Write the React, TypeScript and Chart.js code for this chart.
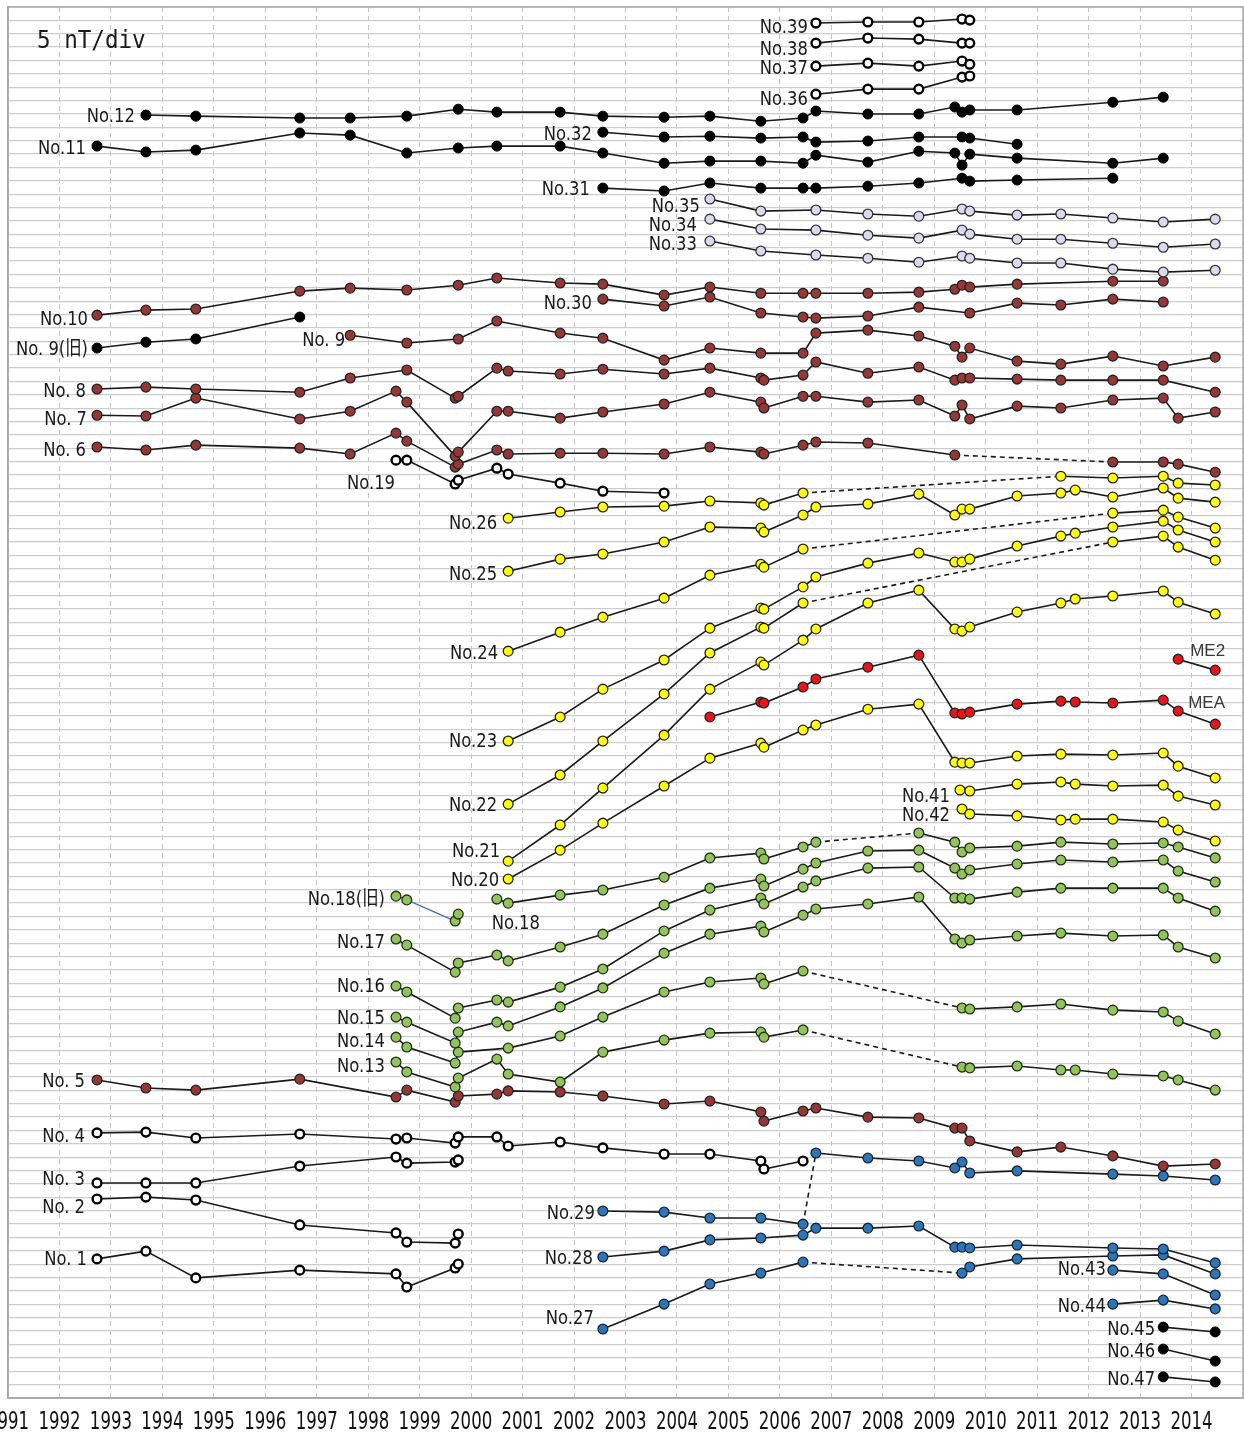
import React, { useEffect, useRef } from 'react';
import { Chart, registerables } from 'chart.js';

Chart.register(...registerables);

type Pt = [number, number];

// ---- axis / tick values ----
const YEAR_LABELS = ['1991','1992','1993','1994','1995','1996','1997','1998','1999','2000','2001','2002','2003','2004','2005','2006','2007','2008','2009','2010','2011','2012','2013','2014'];
const X_MIN = 1991;
const X_MAX = 2015;
const Y_MIN = 0;
const Y_MAX = 520;
const Y_STEP = 5; // 5 nT / div

// ---- series (year, relative nT) ----
const NO39: Pt[] = [[2006.70,514.0],[2007.71,514.4],[2008.70,514.4],[2009.54,515.5],[2009.69,515.1]];
const NO38: Pt[] = [[2006.70,506.5],[2007.71,508.4],[2008.70,508.0],[2009.54,506.5],[2009.69,506.5]];
const NO37: Pt[] = [[2006.70,497.9],[2007.71,499.0],[2008.70,497.9],[2009.54,499.8],[2009.69,498.6]];
const NO36: Pt[] = [[2006.70,487.4],[2007.71,489.3],[2008.70,489.3],[2009.54,493.8],[2009.69,494.2]];
const NO12: Pt[] = [[1993.68,479.6],[1994.65,479.2],[1996.67,478.5],[1997.65,478.5],[1998.75,479.2],[1999.75,481.8],[2000.50,480.7],[2001.73,480.7],[2002.56,479.2],[2003.75,478.8],[2004.64,479.2],[2005.63,477.3],[2006.45,478.5],[2006.70,481.1],[2007.71,480.0],[2008.70,480.0],[2009.40,482.6],[2009.54,480.7],[2009.69,481.5],[2010.61,481.5],[2012.47,484.4],[2013.45,486.3]];
const NO11: Pt[] = [[1992.73,468.0],[1993.68,465.8],[1994.65,466.5],[1996.67,472.9],[1997.65,472.1],[1998.75,465.4],[1999.75,467.3],[2000.50,468.0],[2001.73,468.0],[2002.56,465.4],[2003.75,461.6],[2004.64,462.4],[2005.63,462.4],[2006.45,461.6],[2006.70,464.6],[2007.71,462.0],[2008.70,466.1],[2009.40,465.4],[2009.54,460.9],[2009.69,465.0],[2010.61,463.5],[2012.47,461.6],[2013.45,463.5]];
const NO32: Pt[] = [[2002.56,473.2],[2003.75,471.4],[2004.64,471.7],[2005.63,471.0],[2006.45,471.4],[2006.70,469.5],[2007.71,469.9],[2008.70,471.4],[2009.54,471.4],[2009.69,471.0],[2010.61,468.7]];
const NO31: Pt[] = [[2002.56,452.3],[2003.75,451.2],[2004.64,454.2],[2005.63,452.3],[2006.45,452.3],[2006.70,452.3],[2007.71,453.0],[2008.70,454.2],[2009.54,456.0],[2009.69,454.9],[2010.61,455.3],[2012.47,456.0]];
const NO35: Pt[] = [[2004.64,448.2],[2005.63,443.7],[2006.70,444.1],[2007.71,442.6],[2008.70,441.8],[2009.54,444.5],[2009.69,443.7],[2010.61,442.2],[2011.46,442.6],[2012.47,441.1],[2013.45,439.6],[2014.46,440.7]];
const NO34: Pt[] = [[2004.64,440.7],[2005.63,437.0],[2006.70,436.6],[2007.71,434.7],[2008.70,433.6],[2009.54,436.6],[2009.69,435.1],[2010.61,433.2],[2011.46,433.2],[2012.47,431.7],[2013.45,430.2],[2014.46,431.4]];
const NO33: Pt[] = [[2004.64,432.5],[2005.63,428.8],[2006.70,427.3],[2007.71,426.1],[2008.70,424.6],[2009.54,426.9],[2009.69,426.1],[2010.61,424.3],[2011.46,424.3],[2012.47,422.0],[2013.45,420.9],[2014.46,421.6]];
const NO10: Pt[] = [[1992.73,404.8],[1993.68,406.7],[1994.65,407.1],[1996.67,413.8],[1997.65,414.9],[1998.75,414.2],[1999.75,416.0],[2000.50,418.7],[2001.73,416.8],[2002.56,416.4],[2003.75,412.3],[2004.64,415.3],[2005.63,413.0],[2006.45,413.0],[2006.70,413.0],[2007.71,413.0],[2008.70,413.4],[2009.40,414.5],[2009.54,416.0],[2009.69,415.3],[2010.61,416.4],[2012.47,417.5],[2013.45,417.5]];
const NO30: Pt[] = [[2002.56,410.8],[2003.75,408.2],[2004.64,411.6],[2005.63,405.6],[2006.45,404.1],[2006.70,403.7],[2007.71,404.5],[2008.70,407.8],[2009.69,405.6],[2010.61,409.3],[2011.46,408.6],[2012.47,410.8],[2013.45,409.7]];
const NO9_OLD: Pt[] = [[1992.73,392.5],[1993.68,394.7],[1994.65,395.9],[1996.67,404.1]];
const NO9: Pt[] = [[1997.65,397.3],[1998.75,394.4],[1999.75,395.9],[2000.50,402.6],[2001.73,398.1],[2002.56,396.2],[2003.75,388.0],[2004.64,392.5],[2005.63,390.6],[2006.45,390.6],[2006.70,398.1],[2007.71,399.2],[2008.70,397.0],[2009.40,393.2],[2009.54,389.1],[2009.69,392.5],[2010.61,387.6],[2011.46,386.5],[2012.47,389.5],[2013.45,385.8],[2014.46,389.1]];
const NO8: Pt[] = [[1992.73,377.2],[1993.68,377.9],[1994.65,377.2],[1996.67,376.0],[1997.65,381.3],[1998.75,384.3],[1999.69,373.8],[1999.75,374.5],[2000.50,385.0],[2000.72,383.9],[2001.73,382.8],[2002.56,384.6],[2003.75,382.8],[2004.64,385.0],[2005.63,381.3],[2005.69,380.5],[2006.45,382.4],[2006.70,387.3],[2007.71,383.1],[2008.70,385.4],[2009.40,380.5],[2009.54,381.3],[2009.69,381.3],[2010.61,380.9],[2011.46,380.5],[2012.47,380.5],[2013.45,380.5],[2014.46,376.0]];
const NO7: Pt[] = [[1992.73,367.4],[1993.68,367.1],[1994.65,373.8],[1996.67,366.0],[1997.65,368.9],[1998.54,376.4],[1998.75,372.3],[1999.69,352.1],[1999.75,353.6],[2000.50,368.9],[2000.72,368.9],[2001.73,366.3],[2002.56,368.6],[2003.75,371.6],[2004.64,376.0],[2005.63,372.3],[2005.69,370.1],[2006.45,374.5],[2006.70,374.5],[2007.71,372.3],[2008.70,373.1],[2009.40,367.1],[2009.54,371.2],[2009.69,366.0],[2010.61,370.8],[2011.46,370.1],[2012.47,373.1],[2013.45,373.8],[2013.74,366.3],[2014.46,368.6]];
const NO6: Pt[] = [[1992.73,355.5],[1993.68,354.4],[1994.65,356.2],[1996.67,355.1],[1997.65,352.9],[1998.54,360.7],[1998.75,357.7],[1999.69,348.0],[1999.75,349.1],[2000.50,354.4],[2000.72,352.9],[2001.73,353.2],[2002.56,353.2],[2003.75,352.9],[2004.64,355.5],[2005.63,353.6],[2005.69,352.9],[2006.45,356.2],[2006.70,357.4],[2007.71,357.0],[2009.40,352.5],[2012.47,349.9],[2013.45,349.9],[2013.74,349.1],[2014.46,346.1]];
const NO19: Pt[] = [[1998.54,350.6],[1998.75,350.6],[1999.69,341.7],[1999.75,343.1],[2000.50,347.6],[2000.72,345.4],[2001.73,342.0],[2002.56,339.0],[2003.75,338.3]];
const NO26: Pt[] = [[2000.72,328.9],[2001.73,331.2],[2002.56,333.1],[2003.75,333.4],[2004.64,335.3],[2005.63,334.6],[2005.69,333.8],[2006.45,338.3],[2011.46,344.6],[2012.47,343.9],[2013.45,344.6],[2013.74,342.0],[2014.46,341.3]];
const NO25: Pt[] = [[2000.72,309.1],[2001.73,313.6],[2002.56,315.5],[2003.75,320.0],[2004.64,325.6],[2005.63,325.2],[2005.69,323.7],[2006.45,330.1],[2006.70,333.1],[2007.71,334.2],[2008.70,337.9],[2009.40,330.1],[2009.54,332.3],[2009.69,332.3],[2010.61,337.2],[2011.46,338.3],[2011.74,339.4],[2012.47,336.8],[2013.45,340.2],[2013.74,336.4],[2014.46,334.9]];
const NO24: Pt[] = [[2000.72,279.2],[2001.73,286.3],[2002.56,291.9],[2003.75,299.0],[2004.64,307.6],[2005.63,311.7],[2005.69,310.6],[2006.45,317.4],[2012.47,330.8],[2013.45,331.9],[2013.74,329.3],[2014.46,325.2]];
const NO23: Pt[] = [[2000.72,245.6],[2001.73,254.6],[2002.56,265.0],[2003.75,275.9],[2004.64,287.8],[2005.63,295.3],[2005.69,294.9],[2006.45,303.2],[2006.70,306.9],[2007.71,312.1],[2008.70,315.9],[2009.40,312.5],[2009.54,312.5],[2009.69,313.6],[2010.61,318.5],[2011.46,322.2],[2011.74,323.3],[2012.47,325.6],[2013.45,327.8],[2013.74,324.5],[2014.46,320.0]];
const NO22: Pt[] = [[2000.72,222.0],[2001.73,232.9],[2002.56,245.6],[2003.75,263.2],[2004.64,278.5],[2005.63,288.2],[2005.69,287.8],[2006.45,297.2],[2012.47,320.0],[2013.45,322.2],[2013.74,318.1],[2014.46,313.2]];
const NO21: Pt[] = [[2000.72,200.7],[2001.73,214.2],[2002.56,228.0],[2003.75,247.8],[2004.64,265.0],[2005.63,275.1],[2005.69,274.0],[2006.45,283.3],[2006.70,287.5],[2007.71,297.2],[2008.70,302.0],[2009.40,287.5],[2009.54,286.7],[2009.69,288.2],[2010.61,293.8],[2011.46,297.2],[2011.74,298.7],[2012.47,299.8],[2013.45,301.7],[2013.74,297.5],[2014.46,293.1]];
const NO20: Pt[] = [[2000.72,194.0],[2001.73,204.8],[2002.56,214.9],[2003.75,228.8],[2004.64,239.2],[2005.63,244.8],[2005.69,243.3],[2006.45,249.7],[2006.70,251.6],[2007.71,257.5],[2008.70,259.4],[2009.40,237.7],[2009.54,237.4],[2009.69,237.4],[2010.61,240.0],[2011.46,240.7],[2012.47,240.4],[2013.45,241.1],[2013.74,236.2],[2014.46,231.8]];
const MEA: Pt[] = [[2004.64,254.6],[2005.63,260.2],[2005.69,259.8],[2006.45,265.8],[2006.70,268.8],[2007.71,273.2],[2008.70,277.7],[2009.40,256.1],[2009.54,255.7],[2009.69,256.4],[2010.61,259.4],[2011.46,260.5],[2011.74,260.2],[2012.47,259.8],[2013.45,260.9],[2013.74,256.8],[2014.46,251.9]];
const ME2: Pt[] = [[2013.74,276.2],[2014.46,272.1]];
const NO41: Pt[] = [[2009.50,227.3],[2009.69,226.9],[2010.61,229.5],[2011.46,230.3],[2011.74,229.5],[2012.47,228.8],[2013.45,229.1],[2013.74,225.0],[2014.46,221.7]];
const NO42: Pt[] = [[2009.54,220.2],[2009.69,218.3],[2010.61,217.6],[2011.46,216.1],[2011.74,216.4],[2012.47,216.4],[2013.45,215.3],[2013.74,212.3],[2014.46,208.2]];
const NO18_OLD: Pt[] = [[1998.54,187.6],[1998.75,186.2],[1999.69,178.3],[1999.75,180.9]];
const NO18: Pt[] = [[2000.50,186.5],[2000.72,185.0],[2001.73,188.0],[2002.56,189.9],[2003.75,194.7],[2004.64,201.9],[2005.63,203.7],[2005.69,201.5],[2006.45,206.0],[2006.70,207.8],[2008.70,211.2],[2009.40,207.8],[2009.54,204.1],[2009.69,205.6],[2010.61,206.3],[2011.46,207.8],[2012.47,207.1],[2013.45,207.5],[2013.74,206.0],[2014.46,201.9]];
const NO17: Pt[] = [[1998.54,171.6],[1998.75,169.3],[1999.69,159.2],[1999.75,162.6],[2000.50,165.6],[2000.72,163.4],[2001.73,168.6],[2002.56,173.4],[2003.75,184.3],[2004.64,190.6],[2005.63,194.0],[2005.69,191.4],[2006.45,197.7],[2006.70,200.0],[2007.71,204.5],[2008.70,204.8],[2009.40,198.1],[2009.54,195.9],[2009.69,197.4],[2010.61,199.6],[2011.46,201.1],[2012.47,200.4],[2013.45,201.1],[2013.74,197.0],[2014.46,192.9]];
const NO16: Pt[] = [[1998.54,154.0],[1998.75,151.8],[1999.69,142.0],[1999.75,145.8],[2000.50,148.8],[2000.72,148.0],[2001.73,153.6],[2002.56,160.4],[2003.75,174.6],[2004.64,182.4],[2005.63,186.9],[2005.69,184.7],[2006.45,191.0],[2006.70,193.3],[2007.71,198.1],[2008.70,198.5],[2009.40,186.9],[2009.54,186.9],[2009.69,186.5],[2010.61,189.1],[2011.46,190.6],[2012.47,190.6],[2013.45,190.6],[2013.74,186.9],[2014.46,182.0]];
const NO15: Pt[] = [[1998.54,142.4],[1998.75,140.5],[1999.69,132.7],[1999.75,136.8],[2000.50,140.5],[2000.72,139.1],[2001.73,146.2],[2002.56,153.3],[2003.75,166.3],[2004.64,173.4],[2005.63,176.4],[2005.69,174.2],[2006.45,180.5],[2006.70,182.8],[2007.71,184.7],[2008.70,187.3],[2009.40,171.6],[2009.54,170.1],[2009.69,171.2],[2010.61,172.7],[2011.46,173.8],[2012.47,172.7],[2013.45,173.1],[2013.74,168.6],[2014.46,164.5]];
const NO14: Pt[] = [[1998.54,134.9],[1998.75,131.2],[1999.69,125.2],[1999.75,129.3],[2000.72,130.8],[2001.73,135.3],[2002.56,142.4],[2003.75,151.8],[2004.64,155.5],[2005.63,157.0],[2005.69,154.8],[2006.45,159.6],[2009.54,145.8],[2009.69,145.4],[2010.61,146.2],[2011.46,147.3],[2012.47,145.0],[2013.45,144.3],[2013.74,140.9],[2014.46,136.1]];
const NO13: Pt[] = [[1998.54,125.6],[1998.75,121.9],[1999.69,116.3],[1999.75,119.6],[2000.50,126.7],[2000.72,121.1],[2001.73,118.1],[2002.56,129.3],[2003.75,133.8],[2004.64,136.4],[2005.63,136.8],[2005.69,134.9],[2006.45,137.6],[2009.54,123.7],[2009.69,123.4],[2010.61,124.1],[2011.46,122.6],[2011.74,122.6],[2012.47,121.1],[2013.45,120.4],[2013.74,118.9],[2014.46,115.1]];
const NO5: Pt[] = [[1992.73,118.9],[1993.68,115.9],[1994.65,115.1],[1996.67,119.2],[1998.54,112.5],[1998.75,115.1],[1999.69,110.6],[1999.75,112.9],[2000.50,113.6],[2000.72,114.8],[2001.73,114.4],[2002.56,112.9],[2003.75,109.9],[2004.64,111.0],[2005.63,106.9],[2005.69,103.5],[2006.45,107.3],[2006.70,108.4],[2007.71,105.0],[2008.70,104.7],[2009.40,100.9],[2009.54,100.9],[2009.69,96.1],[2010.61,92.0],[2011.46,93.8],[2012.47,90.5],[2013.45,86.7],[2014.46,87.5]];
const NO4: Pt[] = [[1992.73,99.1],[1993.68,99.4],[1994.65,97.2],[1996.67,98.7],[1998.54,96.8],[1998.75,97.2],[1999.69,95.3],[1999.75,97.6],[2000.50,97.6],[2000.72,94.2],[2001.73,95.7],[2002.56,93.5],[2003.75,91.2],[2004.64,91.2],[2005.63,88.6],[2005.69,85.6],[2006.45,88.6]];
const NO3: Pt[] = [[1992.73,80.4],[1993.68,80.4],[1994.65,80.4],[1996.67,86.7],[1998.54,90.1],[1998.75,87.8],[1999.69,88.2],[1999.75,89.0]];
const NO2: Pt[] = [[1992.73,74.4],[1993.68,75.1],[1994.65,74.0],[1996.67,64.7],[1998.54,61.7],[1998.75,58.3],[1999.69,57.9],[1999.75,61.3]];
const NO1: Pt[] = [[1992.73,52.0],[1993.68,54.9],[1994.65,44.9],[1996.67,47.8],[1998.54,46.4],[1998.75,41.5],[1999.69,48.6],[1999.75,50.1]];
const NO29: Pt[] = [[2002.56,69.9],[2003.75,69.5],[2004.64,67.3],[2005.63,67.3],[2006.45,65.0],[2006.70,91.6],[2007.71,89.7],[2008.70,88.6],[2009.40,86.0],[2009.54,88.2],[2009.69,84.1],[2010.61,84.9],[2012.47,83.7],[2013.45,83.0],[2014.46,81.5]];
const NO28: Pt[] = [[2002.56,52.7],[2003.75,54.9],[2004.64,59.1],[2005.63,59.8],[2006.45,60.9],[2006.70,63.5],[2007.71,63.5],[2008.70,64.3],[2009.40,56.4],[2009.54,56.4],[2009.69,56.1],[2010.61,57.2],[2012.47,56.1],[2013.45,55.7],[2014.46,50.5]];
const NO27: Pt[] = [[2002.56,25.8],[2003.75,35.1],[2004.64,42.6],[2005.63,46.7],[2006.45,50.8],[2009.54,46.7],[2009.69,49.0],[2010.61,52.0],[2012.47,53.1],[2013.45,53.5],[2014.46,46.4]];
const NO43: Pt[] = [[2012.47,47.8],[2013.45,46.4],[2014.46,38.5]];
const NO44: Pt[] = [[2012.47,35.1],[2013.45,36.6],[2014.46,33.3]];
const NO45: Pt[] = [[2013.45,26.5],[2014.46,24.7]];
const NO46: Pt[] = [[2013.45,18.3],[2014.46,13.8]];
const NO47: Pt[] = [[2013.45,7.9],[2014.46,6.0]];

// ---- styles ----
type Kind = 'open' | 'black' | 'brown' | 'yellow' | 'green' | 'lav' | 'blue' | 'red';
const MARKER: Record<Kind, { fill: string; border: string; r: number; bw: number }> = {
  open: { fill: '#ffffff', border: '#000000', r: 4.4, bw: 2.4 },
  black: { fill: '#000000', border: '#000000', r: 5, bw: 1 },
  brown: { fill: '#953735', border: '#222222', r: 4.9, bw: 1.3 },
  yellow: { fill: '#ffff00', border: '#222222', r: 4.9, bw: 1.3 },
  green: { fill: '#92c35c', border: '#233018', r: 4.9, bw: 1.3 },
  lav: { fill: '#d9d9ef', border: '#333333', r: 4.9, bw: 1.3 },
  blue: { fill: '#2e75b6', border: '#14263f', r: 4.9, bw: 1.3 },
  red: { fill: '#e8141a', border: '#222222', r: 4.9, bw: 1.3 },
};

interface SeriesDef { key: string; data: Pt[]; kind: Kind; dash?: number[]; line?: string; }
const SERIES: SeriesDef[] = [
  { key: 'NO39', data: NO39, kind: 'open' },
  { key: 'NO38', data: NO38, kind: 'open' },
  { key: 'NO37', data: NO37, kind: 'open' },
  { key: 'NO36', data: NO36, kind: 'open' },
  { key: 'NO12', data: NO12, kind: 'black' },
  { key: 'NO11', data: NO11, kind: 'black' },
  { key: 'NO32', data: NO32, kind: 'black' },
  { key: 'NO31', data: NO31, kind: 'black' },
  { key: 'NO35', data: NO35, kind: 'lav' },
  { key: 'NO34', data: NO34, kind: 'lav' },
  { key: 'NO33', data: NO33, kind: 'lav' },
  { key: 'NO10', data: NO10, kind: 'brown' },
  { key: 'NO30', data: NO30, kind: 'brown' },
  { key: 'NO9_OLD', data: NO9_OLD, kind: 'black' },
  { key: 'NO9', data: NO9, kind: 'brown' },
  { key: 'NO8', data: NO8, kind: 'brown' },
  { key: 'NO7', data: NO7, kind: 'brown' },
  { key: 'NO6', data: NO6, kind: 'brown', dash: [20] },
  { key: 'NO19', data: NO19, kind: 'open' },
  { key: 'NO26', data: NO26, kind: 'yellow', dash: [7] },
  { key: 'NO25', data: NO25, kind: 'yellow' },
  { key: 'NO24', data: NO24, kind: 'yellow', dash: [7] },
  { key: 'NO23', data: NO23, kind: 'yellow' },
  { key: 'NO22', data: NO22, kind: 'yellow', dash: [7] },
  { key: 'NO21', data: NO21, kind: 'yellow' },
  { key: 'NO20', data: NO20, kind: 'yellow' },
  { key: 'MEA', data: MEA, kind: 'red' },
  { key: 'ME2', data: ME2, kind: 'red' },
  { key: 'NO41', data: NO41, kind: 'yellow' },
  { key: 'NO42', data: NO42, kind: 'yellow' },
  { key: 'NO18_OLD', data: NO18_OLD, kind: 'green', line: '#3f72b8' },
  { key: 'NO18', data: NO18, kind: 'green', dash: [9] },
  { key: 'NO17', data: NO17, kind: 'green' },
  { key: 'NO16', data: NO16, kind: 'green' },
  { key: 'NO15', data: NO15, kind: 'green' },
  { key: 'NO14', data: NO14, kind: 'green', dash: [11] },
  { key: 'NO13', data: NO13, kind: 'green', dash: [12] },
  { key: 'NO5', data: NO5, kind: 'brown' },
  { key: 'NO4', data: NO4, kind: 'open' },
  { key: 'NO3', data: NO3, kind: 'open' },
  { key: 'NO2', data: NO2, kind: 'open' },
  { key: 'NO1', data: NO1, kind: 'open' },
  { key: 'NO29', data: NO29, kind: 'blue', dash: [4] },
  { key: 'NO28', data: NO28, kind: 'blue' },
  { key: 'NO27', data: NO27, kind: 'blue', dash: [4] },
  { key: 'NO43', data: NO43, kind: 'blue' },
  { key: 'NO44', data: NO44, kind: 'blue' },
  { key: 'NO45', data: NO45, kind: 'black' },
  { key: 'NO46', data: NO46, kind: 'black' },
  { key: 'NO47', data: NO47, kind: 'black' },
];

// series name labels: anchored to a point of the series, pixel offsets
interface LabelDef { s: string; text: string; dx: number; dy: number; align?: CanvasTextAlign; at?: number; me?: boolean; }
const LABELS: LabelDef[] = [
  { s: 'NO12', text: 'No.12', dx: -11, dy: 0 },
  { s: 'NO11', text: 'No.11', dx: -11, dy: 1 },
  { s: 'NO10', text: 'No.10', dx: -9, dy: 3 },
  { s: 'NO9_OLD', text: 'No. 9(旧)', dx: -9, dy: 0 },
  { s: 'NO9', text: 'No. 9', dx: -5, dy: 3 },
  { s: 'NO8', text: 'No. 8', dx: -11, dy: 1 },
  { s: 'NO7', text: 'No. 7', dx: -10, dy: 2 },
  { s: 'NO6', text: 'No. 6', dx: -11, dy: 2 },
  { s: 'NO19', text: 'No.19', dx: -25, dy: 22, align: 'center' },
  { s: 'NO26', text: 'No.26', dx: -11, dy: 4 },
  { s: 'NO25', text: 'No.25', dx: -11, dy: 2 },
  { s: 'NO24', text: 'No.24', dx: -10, dy: 1 },
  { s: 'NO23', text: 'No.23', dx: -11, dy: -1 },
  { s: 'NO22', text: 'No.22', dx: -11, dy: 0 },
  { s: 'NO21', text: 'No.21', dx: -8, dy: -11 },
  { s: 'NO20', text: 'No.20', dx: -9, dy: 0 },
  { s: 'NO18', text: 'No.18', dx: 19, dy: 23, align: 'center' },
  { s: 'NO18_OLD', text: 'No.18(旧)', dx: -11, dy: 2 },
  { s: 'NO17', text: 'No.17', dx: -11, dy: 2 },
  { s: 'NO16', text: 'No.16', dx: -11, dy: -1 },
  { s: 'NO15', text: 'No.15', dx: -11, dy: 0 },
  { s: 'NO14', text: 'No.14', dx: -11, dy: 3 },
  { s: 'NO13', text: 'No.13', dx: -11, dy: 3 },
  { s: 'NO5', text: 'No. 5', dx: -12, dy: 0 },
  { s: 'NO4', text: 'No. 4', dx: -12, dy: 2 },
  { s: 'NO3', text: 'No. 3', dx: -12, dy: -5 },
  { s: 'NO2', text: 'No. 2', dx: -12, dy: 7 },
  { s: 'NO1', text: 'No. 1', dx: -10, dy: -1 },
  { s: 'NO29', text: 'No.29', dx: -8, dy: 1 },
  { s: 'NO28', text: 'No.28', dx: -10, dy: 0 },
  { s: 'NO27', text: 'No.27', dx: -9, dy: -12 },
  { s: 'NO32', text: 'No.32', dx: -11, dy: 1 },
  { s: 'NO31', text: 'No.31', dx: -13, dy: 0 },
  { s: 'NO30', text: 'No.30', dx: -11, dy: 3 },
  { s: 'NO35', text: 'No.35', dx: -10, dy: 6 },
  { s: 'NO34', text: 'No.34', dx: -13, dy: 5 },
  { s: 'NO33', text: 'No.33', dx: -13, dy: 2 },
  { s: 'NO39', text: 'No.39', dx: -8, dy: 3 },
  { s: 'NO38', text: 'No.38', dx: -8, dy: 5 },
  { s: 'NO37', text: 'No.37', dx: -8, dy: 1 },
  { s: 'NO36', text: 'No.36', dx: -8, dy: 3 },
  { s: 'NO41', text: 'No.41', dx: -10, dy: 5 },
  { s: 'NO42', text: 'No.42', dx: -12, dy: 5 },
  { s: 'NO43', text: 'No.43', dx: -7, dy: -2 },
  { s: 'NO44', text: 'No.44', dx: -7, dy: 1 },
  { s: 'NO45', text: 'No.45', dx: -8, dy: 1 },
  { s: 'NO46', text: 'No.46', dx: -8, dy: 1 },
  { s: 'NO47', text: 'No.47', dx: -8, dy: 1 },
  { s: 'ME2', text: 'ME2', dx: 12, dy: -9, align: 'left', me: true },
  { s: 'MEA', text: 'MEA', dx: 10, dy: -9, align: 'left', at: 15, me: true },
];
const TITLE = '5 nT/div';

const LABEL_FONT = '20px "DejaVu Sans", "Noto Sans CJK JP", sans-serif';
const TICK_FONT = '24px "DejaVu Sans", sans-serif';
const TITLE_FONT = '24px "DejaVu Sans Mono", monospace';
const ME_FONT = '17px "Liberation Sans", Arial, sans-serif';

function drawText(ctx: CanvasRenderingContext2D, text: string, px: number, py: number, align: CanvasTextAlign, font: string, size: number, sx: number, color: string) {
  ctx.save();
  ctx.translate(px, py + size * 0.365);
  ctx.scale(sx, 1);
  ctx.font = font;
  ctx.fillStyle = color;
  ctx.textAlign = align;
  ctx.textBaseline = 'alphabetic';
  ctx.fillText(text, 0, 0);
  ctx.restore();
}

const overlayPlugin = {
  id: 'overlay',
  beforeDatasetsDraw(chart: any) {
    const { ctx, chartArea: a } = chart;
    ctx.save();
    ctx.strokeStyle = '#a8a8a8';
    ctx.lineWidth = 1.5;
    ctx.strokeRect(a.left, a.top, a.right - a.left, a.bottom - a.top);
    ctx.restore();
  },
  afterDraw(chart: any) {
    const { ctx, chartArea: a } = chart;
    const xs = chart.scales.x;
    const ys = chart.scales.y;
    drawText(ctx, TITLE, a.left + 29, a.top + 32, 'left', TITLE_FONT, 24, 0.94, '#1a1a1a');
    YEAR_LABELS.forEach((l) => {
      drawText(ctx, l, xs.getPixelForValue(Number(l)), a.bottom + 22, 'center', TICK_FONT, 24, 0.69, '#111111');
    });
    const map: Record<string, Pt[]> = {};
    SERIES.forEach((s) => { map[s.key] = s.data; });
    LABELS.forEach((lb) => {
      const d = map[lb.s];
      const p = d[lb.at ?? 0];
      const px = xs.getPixelForValue(p[0]) + lb.dx;
      const py = ys.getPixelForValue(p[1]) + lb.dy;
      if (lb.me) drawText(ctx, lb.text, px, py, lb.align ?? 'right', ME_FONT, 17, 1, '#3a3a3a');
      else drawText(ctx, lb.text, px, py, lb.align ?? 'right', LABEL_FONT, 20, 0.82, '#1a1a1a');
    });
  },
};

export default function App() {
  const ref = useRef<HTMLCanvasElement | null>(null);
  useEffect(() => {
    if (!ref.current) return;
    const datasets = SERIES.map((s) => {
      const m = MARKER[s.kind];
      const dashIdx = s.dash || [];
      return {
        label: s.key,
        data: s.data.map(([x, y]) => ({ x, y })),
        borderColor: s.line || '#1a1a1a',
        borderWidth: s.line ? 1.3 : 1.6,
        pointRadius: m.r,
        pointHoverRadius: m.r,
        pointBorderWidth: m.bw,
        pointBackgroundColor: m.fill,
        pointBorderColor: m.border,
        tension: 0,
        fill: false,
        segment: {
          borderDash: (c: any) => (dashIdx.includes(c.p0DataIndex) ? [5, 4] : undefined),
        },
      };
    });
    const chart = new Chart(ref.current, {
      type: 'line',
      data: { datasets } as any,
      options: {
        animation: false,
        responsive: false,
        devicePixelRatio: 1,
        layout: { autoPadding: false, padding: { left: 8, right: 1, top: 7, bottom: 34 } },
        plugins: { legend: { display: false }, tooltip: { enabled: false } },
        scales: {
          x: {
            type: 'linear',
            min: X_MIN,
            max: X_MAX,
            ticks: { display: false, stepSize: 1 },
            grid: { color: '#c4c4c4', lineWidth: 1, drawTicks: false },
            border: { display: true, color: '#a8a8a8', width: 1.5, dash: [5, 4] },
          },
          y: {
            type: 'linear',
            min: Y_MIN,
            max: Y_MAX,
            ticks: { display: false, stepSize: Y_STEP },
            grid: { color: '#cdcdcd', lineWidth: 1.3, drawTicks: false },
            border: { display: true, color: '#a8a8a8', width: 1.5 },
          },
        },
      } as any,
      plugins: [overlayPlugin],
    });
    return () => chart.destroy();
  }, []);
  return (
    <div style={{ position: 'absolute', left: 0, top: 0, width: 1244, height: 1432, background: '#ffffff' }}>
      <canvas ref={ref} width={1244} height={1432} style={{ display: 'block', width: 1244, height: 1432 }} />
    </div>
  );
}
